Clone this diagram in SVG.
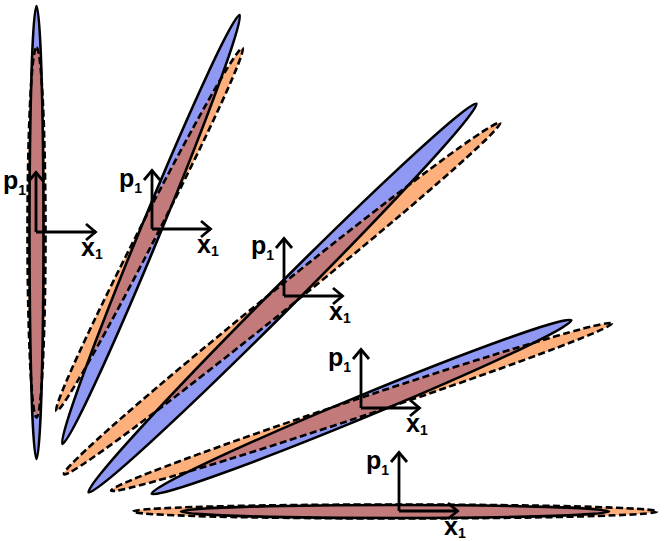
<svg xmlns="http://www.w3.org/2000/svg" width="665" height="541" viewBox="0 0 665 541">
<style>
.bf{fill:#8f98f3;stroke:none}
.of{fill:#fdb07c;stroke:none}
.xf{fill:#c27a7a;stroke:none}
.bs{fill:none;stroke:#000;stroke-width:2.6}
.os{fill:none;stroke:#000;stroke-width:2.6;stroke-dasharray:7 3.5}
.ax{fill:none;stroke:#000;stroke-width:2.8;marker-end:url(#ah)}
.lb{font-family:"Liberation Sans",Arial,sans-serif;font-weight:bold;font-size:25px;fill:#000}
.sb{font-size:14px}
</style>
<defs>
<marker id="ah" markerUnits="userSpaceOnUse" viewBox="-12 -10 14 20" refX="0" refY="0" markerWidth="14" markerHeight="20" orient="auto" overflow="visible">
<path d="M-10,-8 L-0.5,0 L-10,8" fill="none" stroke="#000" stroke-width="2.8"/>
</marker>
<ellipse id="b1" cx="0" cy="0" rx="226.5" ry="7" transform="translate(36.5 232.5) rotate(-90)"/>
<ellipse id="o1" cx="0" cy="0" rx="185" ry="9" transform="translate(36.5 232.5) rotate(-90)"/>
<ellipse id="b2" cx="0" cy="0" rx="232" ry="10" transform="translate(151 229.5) rotate(-67.56)"/>
<ellipse id="o2" cx="0" cy="0" rx="204" ry="9" transform="translate(149.5 229.5) rotate(-62.87)"/>
<ellipse id="b3" cx="0" cy="0" rx="274.5" ry="12" transform="translate(282.5 298) rotate(-45.06)"/>
<ellipse id="o3" cx="0" cy="0" rx="280" ry="11" transform="translate(282 298.5) rotate(-38.87)"/>
<ellipse id="b4" cx="0" cy="0" rx="227" ry="11" transform="translate(361.5 407) rotate(-22.46)"/>
<ellipse id="o4" cx="0" cy="0" rx="264" ry="9" transform="translate(361.5 407) rotate(-18.47)"/>
<ellipse id="b5" cx="0" cy="0" rx="214" ry="6.5" transform="translate(395 511.5)"/>
<ellipse id="o5" cx="0" cy="0" rx="262" ry="7" transform="translate(395 511.5)"/>
<clipPath id="c1"><use href="#o1"/></clipPath>
<clipPath id="c2"><use href="#o2"/></clipPath>
<clipPath id="c3"><use href="#o3"/></clipPath>
<clipPath id="c4"><use href="#o4"/></clipPath>
<clipPath id="c5"><use href="#o5"/></clipPath>
</defs>
<g id="phase1">
<use href="#b1" class="bf"/><use href="#o1" class="of"/><use href="#b1" class="xf" clip-path="url(#c1)"/>
<use href="#b1" class="bs"/><use href="#o1" class="os"/>
</g>
<g id="phase2">
<use href="#b2" class="bf"/><use href="#o2" class="of"/><use href="#b2" class="xf" clip-path="url(#c2)"/>
<use href="#b2" class="bs"/><use href="#o2" class="os"/>
</g>
<g id="phase3">
<use href="#b3" class="bf"/><use href="#o3" class="of"/><use href="#b3" class="xf" clip-path="url(#c3)"/>
<use href="#b3" class="bs"/><use href="#o3" class="os"/>
</g>
<g id="phase4">
<use href="#b4" class="bf"/><use href="#o4" class="of"/><use href="#b4" class="xf" clip-path="url(#c4)"/>
<use href="#b4" class="bs"/><use href="#o4" class="os"/>
</g>
<g id="phase5">
<use href="#b5" class="bf"/><use href="#o5" class="of"/><use href="#b5" class="xf" clip-path="url(#c5)"/>
<use href="#b5" class="bs"/><use href="#o5" class="os"/>
</g>
<g id="connectors">
<path class="ax" d="M36,232 V172"/><path class="ax" d="M36,232 H96"/>
<path class="ax" d="M152,229 V170"/><path class="ax" d="M152,229 H211"/>
<path class="ax" d="M284,296 V238"/><path class="ax" d="M284,296 H343"/>
<path class="ax" d="M361,408 V349"/><path class="ax" d="M361,408 H420"/>
<path class="ax" d="M399,511 V452"/><path class="ax" d="M399,511 H458"/>
</g>
<g id="labels" class="lb">
<text x="3" y="189">p<tspan class="sb" dy="6">1</tspan></text>
<text x="81" y="256">x<tspan class="sb" dy="3">1</tspan></text>
<text x="119" y="187">p<tspan class="sb" dy="6">1</tspan></text>
<text x="197" y="253">x<tspan class="sb" dy="3">1</tspan></text>
<text x="251" y="254">p<tspan class="sb" dy="6">1</tspan></text>
<text x="329" y="320">x<tspan class="sb" dy="3">1</tspan></text>
<text x="328" y="366">p<tspan class="sb" dy="6">1</tspan></text>
<text x="406" y="432">x<tspan class="sb" dy="3">1</tspan></text>
<text x="366" y="469">p<tspan class="sb" dy="6">1</tspan></text>
<text x="444" y="535">x<tspan class="sb" dy="3">1</tspan></text>
</g>
</svg>
